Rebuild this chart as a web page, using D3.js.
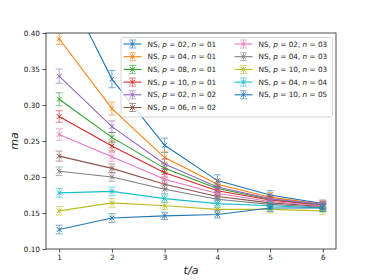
<!DOCTYPE html>
<html>
<head>
<meta charset="utf-8">
<script src="https://d3js.org/d3.v7.min.js"></script>
<style>
  body { margin: 0; background: #fff; }
  text { font-family: "DejaVu Sans", sans-serif; fill: #222; }
</style>
</head>
<body>
<div id="chart"></div>
<script>
// données
var tValues = [1, 2, 3, 4, 5, 6];
var labels = [
  ["02", "01"], ["04", "01"], ["08", "01"], ["10", "01"], ["02", "02"], ["06", "02"],
  ["02", "03"], ["04", "03"], ["10", "03"], ["04", "04"], ["10", "05"]
];
var colors = ["#1f77b4", "#ff7f0e", "#2ca02c", "#d62728", "#9467bd", "#8c564b",
              "#e377c2", "#7f7f7f", "#bcbd22", "#17becf", "#1f77b4"];
var values = [
  [0.482, 0.336, 0.244, 0.195, 0.175, 0.163],
  [0.392, 0.295, 0.227, 0.190, 0.172, 0.162],
  [0.308, 0.255, 0.212, 0.184, 0.169, 0.161],
  [0.284, 0.243, 0.206, 0.181, 0.168, 0.160],
  [0.340, 0.270, 0.218, 0.186, 0.170, 0.162],
  [0.229, 0.212, 0.190, 0.173, 0.164, 0.159],
  [0.259, 0.228, 0.197, 0.177, 0.166, 0.160],
  [0.208, 0.200, 0.183, 0.169, 0.162, 0.158],
  [0.153, 0.164, 0.160, 0.155, 0.155, 0.153],
  [0.178, 0.180, 0.170, 0.163, 0.160, 0.157],
  [0.127, 0.143, 0.146, 0.148, 0.157, 0.157]
];
var errors = [
  [0.012, 0.012, 0.010, 0.008, 0.006, 0.005],
  [0.008, 0.009, 0.008, 0.007, 0.006, 0.005],
  [0.009, 0.007, 0.006, 0.006, 0.005, 0.004],
  [0.008, 0.007, 0.006, 0.006, 0.005, 0.004],
  [0.010, 0.008, 0.007, 0.006, 0.005, 0.004],
  [0.007, 0.006, 0.006, 0.005, 0.005, 0.004],
  [0.008, 0.006, 0.006, 0.005, 0.005, 0.004],
  [0.006, 0.006, 0.006, 0.005, 0.005, 0.004],
  [0.006, 0.006, 0.005, 0.005, 0.005, 0.005],
  [0.006, 0.006, 0.005, 0.005, 0.005, 0.005],
  [0.006, 0.006, 0.005, 0.005, 0.005, 0.005]
];
var yTicks = [0.10, 0.15, 0.20, 0.25, 0.30, 0.35, 0.40];

var largura = 374, altura = 280;
var margin = {top: 33, right: 38, bottom: 31, left: 46};
var x = d3.scaleLinear().domain([0.75, 6.25]).range([margin.left, largura - margin.right]);
var y = d3.scaleLinear().domain([0.10, 0.40]).range([altura - margin.bottom, margin.top]);

var svg = d3.select("#chart").append("svg")
  .attr("width", largura).attr("height", altura);

svg.append("clipPath").attr("id", "clip")
  .append("rect")
  .attr("x", margin.left).attr("y", margin.top)
  .attr("width", x.range()[1] - x.range()[0])
  .attr("height", y.range()[0] - y.range()[1]);

var plot = svg.append("g").attr("clip-path", "url(#clip)");

var linha = d3.line().x((d, i) => x(tValues[i])).y(d => y(d));

values.forEach(function(serie, s) {
  var g = plot.append("g");
  var cor = colors[s];
  // barras de erro
  serie.forEach(function(v, i) {
    var e = errors[s][i], cx = x(tValues[i]);
    var eb = g.append("g").attr("stroke", cor).attr("stroke-width", 1).attr("opacity", 0.6);
    eb.append("line").attr("x1", cx).attr("x2", cx).attr("y1", y(v - e)).attr("y2", y(v + e));
    eb.append("line").attr("x1", cx - 3.5).attr("x2", cx + 3.5).attr("y1", y(v - e)).attr("y2", y(v - e));
    eb.append("line").attr("x1", cx - 3.5).attr("x2", cx + 3.5).attr("y1", y(v + e)).attr("y2", y(v + e));
  });
  g.append("path").datum(serie)
    .attr("d", linha).attr("fill", "none")
    .attr("stroke", cor).attr("stroke-width", 1.1);
  // marcadores x
  serie.forEach(function(v, i) {
    var cx = x(tValues[i]), cy = y(v), r = 2.4;
    g.append("path")
      .attr("d", `M${cx - r},${cy - r}L${cx + r},${cy + r}M${cx - r},${cy + r}L${cx + r},${cy - r}`)
      .attr("stroke", cor).attr("stroke-width", 1);
  });
});

// eixos
var eixoX = svg.append("g")
  .attr("transform", "translate(0," + y.range()[0] + ")")
  .call(d3.axisBottom(x).tickValues(tValues).tickSize(3.5).tickPadding(2.5).tickFormat(d3.format("d")));
var eixoY = svg.append("g")
  .attr("transform", "translate(" + margin.left + ",0)")
  .call(d3.axisLeft(y).tickValues(yTicks).tickSize(3.5).tickPadding(2.5).tickFormat(d3.format(".2f")));
[eixoX, eixoY].forEach(function(a) {
  a.select(".domain").remove();
  a.selectAll("text").style("font-size", "7.3px").style("font-family", "DejaVu Sans").attr("fill", "#222");
  a.selectAll("line").attr("stroke", "#222").attr("stroke-width", 0.8);
});

svg.append("rect")
  .attr("x", margin.left).attr("y", margin.top)
  .attr("width", x.range()[1] - x.range()[0])
  .attr("height", y.range()[0] - y.range()[1])
  .attr("fill", "none").attr("stroke", "#222").attr("stroke-width", 0.8);

svg.append("text")
  .attr("x", (x.range()[0] + x.range()[1]) / 2).attr("y", 274)
  .attr("text-anchor", "middle").style("font-size", "11px").style("font-style", "italic")
  .text("t/a");
svg.append("text")
  .attr("transform", "translate(18," + ((y.range()[0] + y.range()[1]) / 2) + ") rotate(-90)")
  .attr("text-anchor", "middle").style("font-size", "11px").style("font-style", "italic")
  .text("ma");

// legenda
var leg = svg.append("g");
leg.append("rect")
  .attr("x", 121).attr("y", 37.5).attr("width", 211.5).attr("height", 79.5)
  .attr("rx", 2).attr("fill", "#fff").attr("fill-opacity", 0.8)
  .attr("stroke", "#ccc").attr("stroke-width", 0.8);

labels.forEach(function(l, i) {
  var col = i < 6 ? 0 : 1, row = i < 6 ? i : i - 6;
  var x0 = col === 0 ? 123.5 : 234.5, yy = 44 + row * 12.7;
  var g = leg.append("g").attr("stroke", colors[i]);
  g.append("line").attr("x1", x0).attr("x2", x0 + 18).attr("y1", yy).attr("y2", yy).attr("stroke-width", 1.1);
  g.append("line").attr("x1", x0 + 9).attr("x2", x0 + 9).attr("y1", yy - 4).attr("y2", yy + 4).attr("opacity", 0.6);
  g.append("line").attr("x1", x0 + 5.5).attr("x2", x0 + 12.5).attr("y1", yy - 4).attr("y2", yy - 4).attr("opacity", 0.6);
  g.append("line").attr("x1", x0 + 5.5).attr("x2", x0 + 12.5).attr("y1", yy + 4).attr("y2", yy + 4).attr("opacity", 0.6);
  g.append("path").attr("d", `M${x0 + 6.6},${yy - 2.4}L${x0 + 11.4},${yy + 2.4}M${x0 + 6.6},${yy + 2.4}L${x0 + 11.4},${yy - 2.4}`);
  var t = leg.append("text").attr("x", x0 + 24).attr("y", yy + 2.6).style("font-size", "7.3px");
  t.append("tspan").text("NS, ");
  t.append("tspan").style("font-style", "italic").text("p");
  t.append("tspan").text(" = " + l[0] + ", ");
  t.append("tspan").style("font-style", "italic").text("n");
  t.append("tspan").text(" = " + l[1]);
});
</script>
</body>
</html>
